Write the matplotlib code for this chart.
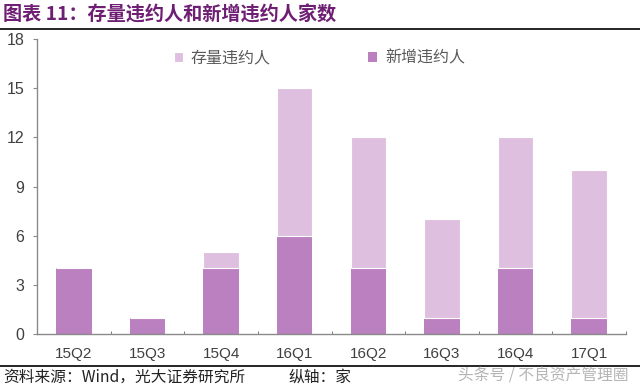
import matplotlib
matplotlib.use('Agg')
import matplotlib.pyplot as plt
from matplotlib.lines import Line2D
import numpy as np

plt.rcParams['font.family'] = ['Liberation Sans', 'Noto Sans CJK SC', 'DejaVu Sans']

quarters = ['15Q2', '15Q3', '15Q4', '16Q1', '16Q2', '16Q3', '16Q4', '17Q1']
new_defaults = [4, 1, 4, 6, 4, 1, 4, 1]
old_defaults = [0, 0, 1, 9, 8, 6, 8, 9]

c_new = '#bb80bf'
c_old = '#dfbfe0'
gray = '#404040'
cjk = ['Noto Sans CJK SC', 'DejaVu Sans']

fig = plt.figure(figsize=(6.4, 3.88), dpi=100)
ax = fig.add_axes([0.058, 0.139, 0.92, 0.7605])

x = np.arange(len(quarters))
ax.bar(x, new_defaults, width=0.48, color=c_new, label='新增违约人', zorder=2)
ax.bar(x, old_defaults, width=0.48, bottom=new_defaults, color=c_old,
       edgecolor='white', linewidth=0.8, label='存量违约人', zorder=2)

ax.set_xlim(-0.5, len(quarters) - 0.5)
ax.set_ylim(0, 18)
ax.set_yticks(range(0, 19, 3))
ax.set_xticks(x)
ax.set_xticklabels(quarters)
ax.set_xticks(np.arange(-0.5, len(quarters), 1), minor=True)

for s in ['top', 'right']:
    ax.spines[s].set_visible(False)
for s in ['left', 'bottom']:
    ax.spines[s].set_color('#8a8a8a')
    ax.spines[s].set_linewidth(1.0)

ax.tick_params(axis='y', length=3, color='#8a8a8a', labelsize=11.5, labelcolor=gray, pad=6)
ax.tick_params(axis='x', which='major', length=0, labelsize=11, labelcolor=gray, pad=9)
ax.tick_params(axis='x', which='minor', length=2.5, direction='in', color='#666666')

# legend: existing first, then new
h, l = ax.get_legend_handles_labels()
leg = ax.legend([h[1], h[0]], [l[1], l[0]], loc='center left', bbox_to_anchor=(0.222, 0.935),
                ncol=2, frameon=False, columnspacing=6.1, handlelength=0.55, handleheight=0.55,
                handletextpad=0.5, borderaxespad=0,
                prop={'family': cjk, 'size': 11.5})
for t in leg.get_texts():
    t.set_color('#595959')

fig.text(0.005, 0.962, '图表 11：存量违约人和新增违约人家数', color='#6e1f73',
         fontsize=13.8, fontweight='bold', family=cjk, va='center', ha='left')
fig.add_artist(Line2D([0, 1], [0.926, 0.926], color='black', linewidth=1.2))
fig.add_artist(Line2D([0, 1], [0.057, 0.057], color='black', linewidth=1.2))

fig.text(0.005, 0.028, '资料来源：Wind，光大证券研究所', color='#222222', fontsize=11.3,
         family=cjk, va='center', ha='left')
fig.text(0.45, 0.028, '纵轴：家', color='#222222', fontsize=11.3,
         family=cjk, va='center', ha='left')
fig.text(0.982, 0.03, '头条号 / 不良资产管理圈', color='#b5b5b5', fontsize=11.3,
         family=cjk, va='center', ha='right')

fig.savefig('out.png', dpi=100)
